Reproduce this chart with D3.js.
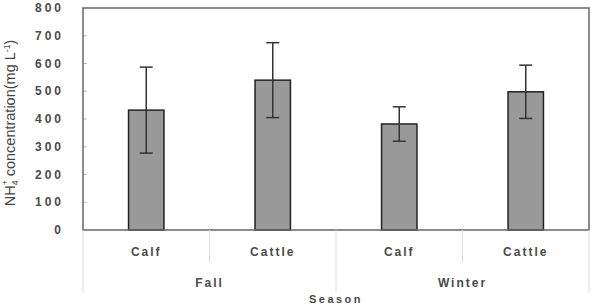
<!DOCTYPE html>
<html><head><meta charset="utf-8">
<script src="https://cdn.jsdelivr.net/npm/d3@7"></script>
<style>body{margin:0;background:#fff;} svg{display:block;font-family:"Liberation Sans",Arial,sans-serif;}</style>
</head><body>
<svg id="c" width="593" height="306"></svg>
<script>
const seasons = ["Fall", "Winter"];
const animals = ["Calf", "Cattle"];
const categories = ["Fall|Calf", "Fall|Cattle", "Winter|Calf", "Winter|Cattle"];
const means = [432, 540, 382, 498];
const errors = [155, 135, 62, 96];
const yTicks = [0, 100, 200, 300, 400, 500, 600, 700, 800];

const svg = d3.select("#c");
const L = 83, R = 589, T = 8, B = 230;
const x = d3.scaleBand().domain(categories).range([L, R]).paddingInner(0.72).paddingOuter(0.36);
const xo = d3.scaleBand().domain(categories).range([L, R]);
const y = d3.scaleLinear().domain([0, 800]).range([B, T]);

// inner y ticks
svg.append("g").selectAll("line").data(yTicks.slice(1, -1)).join("line")
  .attr("x1", L).attr("x2", L + 4).attr("y1", d => y(d)).attr("y2", d => y(d))
  .attr("stroke", "#bbb").attr("stroke-width", 1);

// y tick labels
svg.append("g").selectAll("text").data(yTicks).join("text")
  .attr("x", 64).attr("y", d => y(d)).attr("dy", "0.35em")
  .attr("text-anchor", "end").attr("font-size", 12).attr("font-weight", "bold")
  .attr("letter-spacing", "3px").attr("fill", "#4a4a4a").text(d => d);

// bars
svg.append("g").selectAll("rect").data(categories).join("rect")
  .attr("x", d => x(d)).attr("width", x.bandwidth())
  .attr("y", (d, i) => y(means[i])).attr("height", (d, i) => y(0) - y(means[i]))
  .attr("fill", "#999").attr("stroke", "#222").attr("stroke-width", 1.5);

// error bars
const eb = svg.append("g").attr("stroke", "#333").attr("stroke-width", 1.5);
categories.forEach((c, i) => {
  const cx = x(c) + x.bandwidth() / 2;
  eb.append("line").attr("x1", cx).attr("x2", cx).attr("y1", y(means[i] + errors[i])).attr("y2", y(means[i] - errors[i]));
  [means[i] + errors[i], means[i] - errors[i]].forEach(v =>
    eb.append("line").attr("x1", cx - 6.5).attr("x2", cx + 6.5).attr("y1", y(v)).attr("y2", y(v)));
});

// frame
svg.append("rect").attr("x", L).attr("y", T).attr("width", R - L).attr("height", B - T)
  .attr("fill", "none").attr("stroke", "#666").attr("stroke-width", 1.5);

// category separators
const sep = svg.append("g").attr("stroke", "#ddd").attr("stroke-width", 1);
categories.forEach((c, i) => {
  const xs = xo(c);
  const long = (i % 2 === 0);
  sep.append("line").attr("x1", xs).attr("x2", xs).attr("y1", B).attr("y2", long ? 293 : 262);
});
sep.append("line").attr("x1", R).attr("x2", R).attr("y1", B).attr("y2", 293);

// animal labels
svg.append("g").selectAll("text").data(categories).join("text")
  .attr("x", d => xo(d) + xo.bandwidth() / 2).attr("y", 256)
  .attr("text-anchor", "middle").attr("font-size", 12).attr("font-weight", "bold")
  .attr("letter-spacing", "2px").attr("fill", "#4a4a4a").text(d => d.split("|")[1]);

// season labels
svg.append("g").selectAll("text").data(seasons).join("text")
  .attr("x", (d, i) => xo(categories[i * 2 + 1])).attr("y", 287)
  .attr("text-anchor", "middle").attr("font-size", 12).attr("font-weight", "bold")
  .attr("letter-spacing", "2px").attr("fill", "#4a4a4a").text(d => d);

// x title
svg.append("text").attr("x", (L + R) / 2).attr("y", 303).attr("text-anchor", "middle")
  .attr("font-size", 11).attr("font-weight", "bold").attr("letter-spacing", "2.5px")
  .attr("fill", "#4a4a4a").text("Season");

// y title
const yt = svg.append("text").attr("transform", "translate(15,123) rotate(-90)")
  .attr("text-anchor", "middle").attr("font-size", 14.5).attr("fill", "#444");
yt.append("tspan").text("NH");
yt.append("tspan").attr("font-size", 8.5).attr("dy", 3).text("4");
yt.append("tspan").attr("font-size", 8.5).attr("dy", -10.5).attr("dx", -4.8).text("+");
yt.append("tspan").attr("dy", 7.5).text(" concentration(mg L");
yt.append("tspan").attr("font-size", 8.5).attr("dy", -5).text("-1");
yt.append("tspan").attr("dy", 5).text(")");
</script>
</body></html>
